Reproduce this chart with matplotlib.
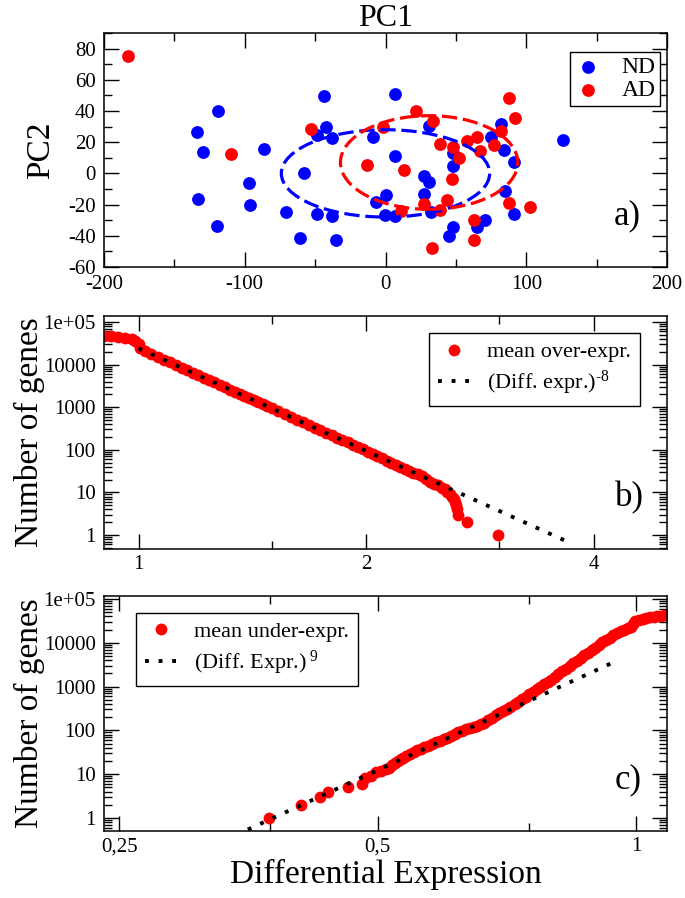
import matplotlib
matplotlib.use("Agg")
import matplotlib.pyplot as plt
from matplotlib.patches import Ellipse
from matplotlib.ticker import MultipleLocator, LogLocator, NullFormatter

plt.rcParams['font.family'] = ['Liberation Serif', 'DejaVu Serif']
plt.rcParams['axes.unicode_minus'] = False
plt.rcParams['mathtext.fontset'] = 'custom'
plt.rcParams['mathtext.rm'] = 'Liberation Serif'
plt.rcParams['mathtext.it'] = 'Liberation Serif:italic'

# ---- panel a) PCA scores
nd_x = [7, -44, -119, -134, -130, -86, -42, -49, -38, -9,
        31, 75, 82, 84, 91, 126, 7, 48, 48, -58,
        -97, -133, -96, -120, -71, -49, -38, -61, -35, 27,
        31, 0, -7, -0.5, 7, 27, 32, 85, 91, 71,
        65, 48, 45]
nd_y = [50.6, 49.5, 39.7, 26.3, 13.5, 15.4, 29.7, 24.4, 22.5, 23.5,
        30.4, 23.5, 31.4, 15, 7.6, 21.4, 11.2, 12.9, 4.8, 0.1,
        -5.9, -16.3, -20.2, -34, -24.8, -26.1, -27.6, -41.5, -43, -1.4,
        -5.2, -13.8, -18.4, -26.8, -27, -13.1, -25, -11.6, -26, -29.7,
        -34.4, -34.4, -40.4]
ad_x = [-183, 88, 22, 34, 92, -2, -53, 82, 58, 65,
        77, 39, 48, 67, 52, -110, -13, 13, 47, 88,
        103, 27, 44, 39, 11, 63, 63, 33]
ad_y = [75, 48.5, 40.2, 33.8, 35.3, 29.5, 28.6, 27.2, 20.8, 23.1,
        18.2, 18.8, 17.1, 14.6, 9.7, 12.5, 5.4, 2.2, -3.7, -19.1,
        -21.6, -19.7, -17, -23.3, -24, -29.7, -43, -47.8]
# ellipses: centre x, centre y, width, height
nd_ellipse = [0, 0, 148, 56]
ad_ellipse = [31, 7, 126, 60]

# ---- panel b) over-expressed genes
over_x = [0.90, 0.92, 0.94, 0.96, 0.98, 0.99, 1.00, 1.005, 1.02, 1.04,
          1.06, 1.08, 1.10, 1.12, 1.14, 1.16, 1.18, 1.20, 1.22, 1.24,
          1.26, 1.28, 1.30, 1.32, 1.34, 1.36, 1.38, 1.40, 1.42, 1.44,
          1.46, 1.48, 1.50, 1.53, 1.56, 1.59, 1.62, 1.65, 1.68, 1.71,
          1.74, 1.77, 1.80, 1.83, 1.86, 1.89, 1.92, 1.95, 1.98, 2.01,
          2.04, 2.07, 2.10, 2.13, 2.16, 2.19, 2.22, 2.25, 2.28, 2.31,
          2.34, 2.37, 2.40, 2.43, 2.46, 2.49, 2.52, 2.54, 2.56, 2.58,
          2.595, 2.61, 2.62, 2.63, 2.64, 2.645, 2.72, 2.99]
over_n = [47000, 46500, 45500, 43000, 39000, 35000, 30000, 24500, 21000, 17800,
          15200, 13000, 11200, 9700, 8400, 7300, 6400, 5600, 4900, 4300,
          3800, 3330, 2950, 2600, 2300, 2050, 1830, 1630, 1450, 1300,
          1160, 1040, 940, 800, 690, 590, 505, 440, 380, 330,
          287, 250, 220, 192, 170, 150, 132, 116, 103, 91,
          80, 71, 63, 56, 49, 44, 39, 35, 31, 29,
          27, 24, 21, 18, 16, 15, 13, 12, 10, 9,
          8, 7, 6, 5, 4, 3, 2, 1]
fit_over_x = [1.0, 3.74]
fit_over_n = [24000, 0.63]

# ---- panel c) under-expressed genes
under_x = [0.374, 0.407, 0.429, 0.438, 0.462, 0.479, 0.484, 0.491, 0.498, 0.504,
           0.511, 0.516, 0.520, 0.524, 0.528, 0.532, 0.536, 0.540, 0.545, 0.551,
           0.556, 0.562, 0.567, 0.573, 0.579, 0.585, 0.591, 0.597, 0.603, 0.609,
           0.615, 0.621, 0.627, 0.634, 0.640, 0.647, 0.653, 0.660, 0.666, 0.673,
           0.680, 0.687, 0.693, 0.700, 0.707, 0.714, 0.722, 0.729, 0.736, 0.744,
           0.751, 0.759, 0.766, 0.774, 0.781, 0.789, 0.796, 0.804, 0.812, 0.820,
           0.829, 0.837, 0.845, 0.854, 0.862, 0.871, 0.879, 0.888, 0.896, 0.905,
           0.914, 0.923, 0.932, 0.941, 0.950, 0.960, 0.969, 0.979, 0.988, 0.993,
           0.998, 1.008, 1.018, 1.028, 1.038, 1.049, 1.059, 1.070, 1.080, 1.090]
under_n = [1, 2, 3, 4, 5, 6, 8, 9, 11, 12,
           13, 14, 16, 18, 20, 22, 24, 26, 29, 32,
           35, 38, 41, 44, 49, 54, 58, 62, 67, 73,
           81, 90, 98, 107, 113, 120, 127, 139, 151, 172,
           196, 220, 245, 278, 314, 350, 392, 447, 510, 580,
           660, 755, 860, 980, 1120, 1270, 1440, 1660, 1930, 2220,
           2550, 2950, 3400, 3900, 4500, 5150, 5900, 6800, 7800, 8950,
           10200, 11700, 13200, 14800, 16500, 18300, 20000, 21600, 23000, 27500,
           31500, 33500, 35500, 37200, 38700, 39800, 40700, 41500, 42000, 42200]
fit_under_x = [0.353, 0.955]
fit_under_n = [0.545, 4070]

log_ticks = [1, 10, 100, 1000, 1e4, 1e5]
log_labels = ['1', '10', '100', '1000', '10000', '1e+05']


def style_axes(ax, xpad=4.5):
    ax.tick_params(which='both', direction='in', top=True, right=True,
                   width=1.0, labelsize=15)
    ax.tick_params(which='major', length=11)
    ax.tick_params(which='minor', length=5.5)
    ax.tick_params(axis='y', which='major', pad=6)
    ax.tick_params(axis='x', which='major', pad=xpad)
    for s in ax.spines.values():
        s.set_linewidth(1.1)


def style_legend(leg):
    leg.get_frame().set_linewidth(1.0)
    leg.get_frame().set_edgecolor('black')


fig = plt.figure(figsize=(6.85, 8.98), dpi=100)
W, H = 685, 898
ax_a = fig.add_axes([104 / W, 1 - 267 / H, 563 / W, 234 / H])
ax_b = fig.add_axes([104 / W, 1 - 549 / H, 563 / W, 233 / H])
ax_c = fig.add_axes([104 / W, 1 - 831 / H, 563 / W, 235 / H])

# a)
ax_a.scatter(nd_x, nd_y, s=85, color='#0000ff', label='ND', zorder=2, linewidths=0)
ax_a.scatter(ad_x, ad_y, s=85, color='#ff0000', label='AD', zorder=2.5, linewidths=0)
for ell, col in [(nd_ellipse, '#0000ff'), (ad_ellipse, '#ff0000')]:
    ax_a.add_patch(Ellipse((ell[0], ell[1]), ell[2], ell[3], fill=False,
                           edgecolor=col, lw=2.3, ls=(0, (4.8, 1.8)), zorder=3))
ax_a.set_xlim(-200, 200)
ax_a.set_ylim(-60, 90)
ax_a.set_xticks([-200, -100, 0, 100, 200])
ax_a.xaxis.set_minor_locator(MultipleLocator(50))
ax_a.set_yticks([-60, -40, -20, 0, 20, 40, 60, 80])
ax_a.yaxis.set_minor_locator(MultipleLocator(10))
style_axes(ax_a, xpad=6)
ax_a.set_title('PC1', fontsize=23, pad=5)
ax_a.set_ylabel('PC2', fontsize=24)
ax_a.yaxis.set_label_coords(-0.085, 0.5)
ax_a.text(0.93, 0.22, 'a)', transform=ax_a.transAxes, fontsize=25,
          ha='center', va='center')
leg = ax_a.legend(loc='upper right', bbox_to_anchor=(0.988, 0.919), fontsize=17,
                  fancybox=False, framealpha=1, borderaxespad=0, borderpad=0.2,
                  labelspacing=0.05, handletextpad=0.8, handlelength=1.2,
                  scatterpoints=1)
style_legend(leg)

# b)
ax_b.plot(over_x, over_n, 'o', color='#ff0000', ms=8.5, mew=0,
          label='mean over-expr.', zorder=2)
ax_b.plot(fit_over_x, fit_over_n, color='black', lw=2.8, ls=(0, (1, 2.5)),
          label=r'(Diff. expr.)$^{\text{-8}}$', zorder=3)
ax_b.set_xscale('log', base=2)
ax_b.set_yscale('log')
ax_b.set_xlim(0.9, 5.0)
ax_b.set_ylim(0.47, 1.38e5)
ax_b.set_xticks([1, 2, 4], labels=['1', '2', '4'])
ax_b.set_xticks([1.5, 3], minor=True)
ax_b.xaxis.set_minor_formatter(NullFormatter())
ax_b.set_yticks(log_ticks, labels=log_labels)
ax_b.yaxis.set_minor_locator(LogLocator(base=10, subs=range(2, 10), numticks=20))
ax_b.yaxis.set_minor_formatter(NullFormatter())
style_axes(ax_b)
ax_b.set_ylabel('Number of genes', fontsize=24)
ax_b.yaxis.set_label_coords(-0.105, 0.5)
ax_b.text(0.934, 0.22, 'b)', transform=ax_b.transAxes, fontsize=25,
          ha='center', va='center')
leg = ax_b.legend(loc='upper right', bbox_to_anchor=(0.952, 0.927), fontsize=16,
                  fancybox=False, framealpha=1, borderaxespad=0, borderpad=0.4,
                  labelspacing=0.3, handletextpad=0.8, handlelength=1.4,
                  numpoints=1)
style_legend(leg)

# c)
ax_c.plot(under_x, under_n, 'o', color='#ff0000', ms=8.5, mew=0,
          label='mean under-expr.', zorder=2)
ax_c.plot(fit_under_x, fit_under_n, color='black', lw=2.8, ls=(0, (1, 2.5)),
          label=r'(Diff. Expr.)$^{\ 9}$', zorder=3)
ax_c.set_xscale('log', base=2)
ax_c.set_yscale('log')
ax_c.set_xlim(0.24, 1.087)
ax_c.set_ylim(0.505, 1.17e5)
ax_c.set_xticks([0.25, 0.5, 1], labels=['0,25', '0,5', '1'])
ax_c.set_xticks([0.375, 0.75], minor=True)
ax_c.xaxis.set_minor_formatter(NullFormatter())
ax_c.set_yticks(log_ticks, labels=log_labels)
ax_c.yaxis.set_minor_locator(LogLocator(base=10, subs=range(2, 10), numticks=20))
ax_c.yaxis.set_minor_formatter(NullFormatter())
style_axes(ax_c)
ax_c.set_ylabel('Number of genes', fontsize=24)
ax_c.yaxis.set_label_coords(-0.105, 0.5)
ax_c.set_xlabel('Differential Expression', fontsize=24)
ax_c.xaxis.set_label_coords(0.5, -0.12)
ax_c.text(0.931, 0.216, 'c)', transform=ax_c.transAxes, fontsize=25,
          ha='center', va='center')
leg = ax_c.legend(loc='upper left', bbox_to_anchor=(0.057, 0.929), fontsize=16,
                  fancybox=False, framealpha=1, borderaxespad=0, borderpad=0.4,
                  labelspacing=0.3, handletextpad=0.8, handlelength=1.4,
                  numpoints=1)
style_legend(leg)

fig.savefig('out.png', dpi=100)
